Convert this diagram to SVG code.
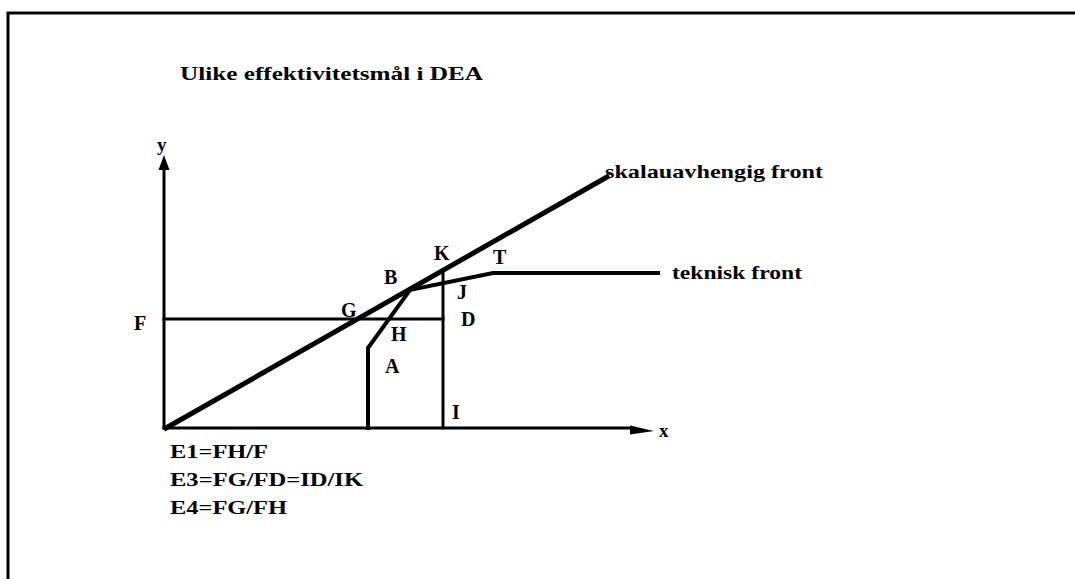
<svg xmlns="http://www.w3.org/2000/svg" width="1075" height="579" viewBox="0 0 1075 579">
<style>
.t{font-family:"Liberation Serif","Times New Roman",serif;font-weight:bold;fill:#000;font-size:19px}
.s{font-size:20px}
.ln{stroke:#000;fill:none;stroke-linecap:square}
</style>
<rect width="1075" height="579" fill="#fff"/>
<g id="frame">
<path class="ln" d="M8 579 V13 H1075" stroke-width="3"/>
</g>
<g id="title"><text class="t" x="180" y="80" textLength="303" lengthAdjust="spacingAndGlyphs">Ulike effektivitetsmål i DEA</text></g>
<g id="axes">
<path class="ln" d="M164 428 V168" stroke-width="3"/>
<polygon points="164,155 158.5,170 169.5,170" fill="#000"/>
<path class="ln" d="M164 428 H632" stroke-width="3"/>
<polygon points="654,431 630,425.5 630,434.5" fill="#000"/>
<text class="t" x="157" y="151" font-size="18">y</text>
<text class="t" x="659" y="437" font-size="18">x</text>
</g>
<g id="connectors">
<path class="ln" d="M164 319 H443" stroke-width="3"/>
<path class="ln" d="M443 270 V428" stroke-width="3"/>
<path class="ln" d="M368 428 V348 L410 290" stroke-width="4"/>
<path class="ln" d="M410 290 L493 273 H658" stroke-width="4"/>
<path class="ln" d="M166 428 L607 177" stroke-width="5"/>
</g>
<g id="labels">
<text class="t" x="605" y="178" textLength="218" lengthAdjust="spacingAndGlyphs">skalauavhengig front</text>
<text class="t" x="672" y="279" textLength="130" lengthAdjust="spacingAndGlyphs">teknisk front</text>
<text class="t s" x="134" y="330">F</text>
<text class="t s" x="341" y="317">G</text>
<text class="t s" x="391" y="341">H</text>
<text class="t s" x="385" y="373">A</text>
<text class="t s" x="384" y="284">B</text>
<text class="t s" x="434" y="260">K</text>
<text class="t s" x="493" y="264">T</text>
<text class="t s" x="457" y="299">J</text>
<text class="t s" x="461" y="326">D</text>
<text class="t s" x="452" y="419">I</text>
</g>
<g id="formulas">
<text class="t" x="170" y="458" textLength="98" lengthAdjust="spacingAndGlyphs">E1=FH/F</text>
<text class="t" x="170" y="486" textLength="193" lengthAdjust="spacingAndGlyphs">E3=FG/FD=ID/IK</text>
<text class="t" x="170" y="514" textLength="117" lengthAdjust="spacingAndGlyphs">E4=FG/FH</text>
</g>
</svg>
